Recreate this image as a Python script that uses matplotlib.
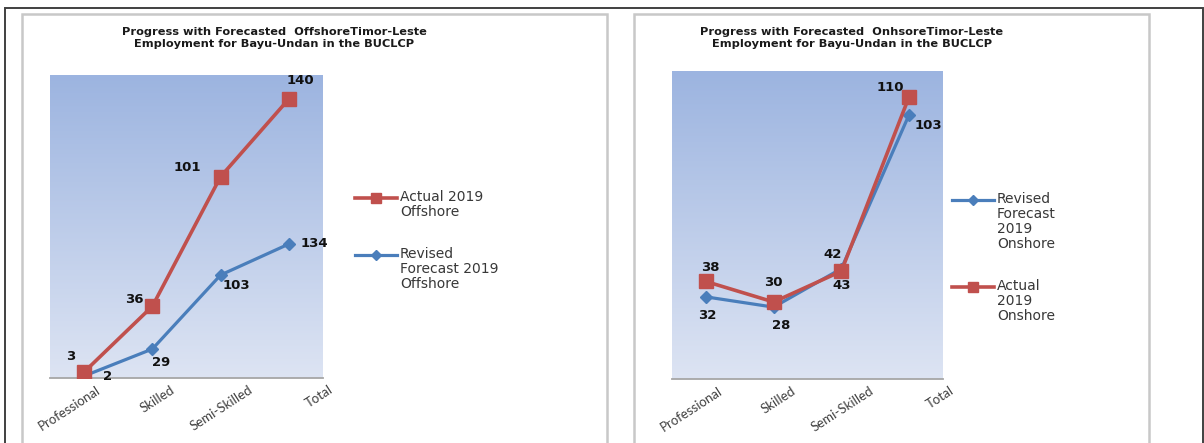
import matplotlib
matplotlib.use("Agg")
import numpy as np
import matplotlib.pyplot as plt
from matplotlib.colors import LinearSegmentedColormap
from matplotlib.lines import Line2D
from matplotlib.patches import Rectangle
from matplotlib.transforms import Affine2D

W, H = 1204, 443

categories = ["Professional", "Skilled", "Semi-Skilled", "Total"]

offshore_actual = [3, 36, 101, 140]
offshore_forecast = [2, 29, 103, 134]

onshore_forecast = [32, 28, 43, 103]
onshore_actual = [38, 30, 42, 110]

# label offsets in pixels (dx, dy)
off_actual_offsets = [(-13, 16), (-18, 7), (-33, 9), (12, 18)]
off_forecast_offsets = [(23, 0), (9, -14), (16, -11), (26, 0)]
on_actual_offsets = [(4, 14), (0, 19), (-9, 17), (-19, 9)]
on_forecast_offsets = [(1, -19), (8, -18), (0, -17), (19, -11)]

# the category labels drift right of their ticks in the source image
tick_shift = [12, 18, 28, 40]

RED = "#C0504D"
BLUE = "#4A7EBB"
GRAD = LinearSegmentedColormap.from_list("bg", ["#DDE4F3", "#9CB4E0"])

plt.rcParams["font.family"] = ["DejaVu Sans"]


def fx(x):
    return x / W


def fy(y):
    return 1 - y / H


def make_axes(fig, x0, y0, x1, y1):
    return fig.add_axes([fx(x0), fy(y1), (x1 - x0) / W, (y1 - y0) / H])


def style_axes(ax):
    grad = np.linspace(0, 1, 256).reshape(-1, 1)
    ax.imshow(grad, cmap=GRAD, origin="lower", aspect="auto",
              extent=[0, 1, 0, 1], transform=ax.transAxes, zorder=0)
    for s in ["top", "left", "right"]:
        ax.spines[s].set_visible(False)
    ax.spines["bottom"].set_color("#A6A6A6")
    ax.spines["bottom"].set_linewidth(1.3)
    ax.set_yticks([])
    ax.set_xlim(-0.5, len(categories) - 0.5)
    ax.tick_params(axis="x", length=0, pad=4)
    ax.set_xticks(range(len(categories)))
    labels = ax.set_xticklabels(categories, rotation=33, ha="right",
                                va="top", rotation_mode="anchor",
                                fontsize=9.5, family="Lato",
                                color="#404040")
    for lbl, dx in zip(labels, tick_shift):
        lbl.set_transform(lbl.get_transform() + Affine2D().translate(dx, 0))


def plot_series(ax, values, offsets, color, marker, ms, lw, z):
    x = np.arange(len(values))
    ax.plot(x, values, color=color, lw=lw, marker=marker, ms=ms,
            zorder=z, solid_joinstyle="round")
    for xi, v, (dx, dy) in zip(x, values, offsets):
        ax.annotate(str(v), (xi, v), xytext=(dx, dy),
                    textcoords="offset pixels", ha="center", va="center",
                    fontsize=9.5, fontweight="bold", color="#111111",
                    zorder=z + 1, annotation_clip=False)


def legend_key(fig, x, y, color, marker, ms, lw, text):
    fig.add_artist(Line2D([fx(x), fx(x + 42)], [fy(y), fy(y)],
                          transform=fig.transFigure, color=color, lw=lw))
    fig.add_artist(Line2D([fx(x + 21)], [fy(y)], transform=fig.transFigure,
                          color=color, marker=marker, ms=ms, lw=0))
    fig.text(fx(x + 45), fy(y - 8), text, ha="left", va="top",
             fontsize=10, color="#383838", linespacing=1.08)


fig = plt.figure(figsize=(W / 100, H / 100), dpi=100)

# frames
fig.add_artist(Rectangle((fx(5), fy(460)), fx(1203) - fx(5), fy(8) - fy(460),
                         transform=fig.transFigure, fill=False,
                         edgecolor="#404040", lw=1.4))
for x0, x1 in [(22, 607), (634, 1149)]:
    fig.add_artist(Rectangle((fx(x0), fy(460)), fx(x1) - fx(x0),
                             fy(14) - fy(460), transform=fig.transFigure,
                             fill=False, edgecolor="#C8C8C8", lw=1.8))

# left chart: offshore (two value scales)
ax1 = make_axes(fig, 50, 75, 323, 378)
style_axes(ax1)
ax1.set_ylim(0, 303)
plot_series(ax1, offshore_forecast, off_forecast_offsets, BLUE, "D", 6.5,
            2.3, 3)
ax1b = ax1.twinx()
ax1b.set_xlim(-0.5, len(categories) - 0.5)
ax1b.set_ylim(0, 152)
ax1b.axis("off")
plot_series(ax1b, offshore_actual, off_actual_offsets, RED, "s", 10, 2.6, 4)

fig.text(fx(274), fy(38), "Progress with Forecasted  OffshoreTimor-Leste\n"
         "Employment for Bayu-Undan in the BUCLCP", ha="center",
         va="center", fontsize=8.2, fontweight="bold", linespacing=1.2,
         color="#1a1a1a")

legend_key(fig, 355, 198, RED, "s", 7.5, 2.6, "Actual 2019\nOffshore")
legend_key(fig, 355, 255, BLUE, "D", 5, 2.3,
           "Revised\nForecast 2019\nOffshore")

# right chart: onshore
ax2 = make_axes(fig, 672, 71, 943, 379)
style_axes(ax2)
ax2.set_ylim(0, 120)
plot_series(ax2, onshore_forecast, on_forecast_offsets, BLUE, "D", 6.5,
            2.3, 3)
plot_series(ax2, onshore_actual, on_actual_offsets, RED, "s", 10, 2.6, 4)

fig.text(fx(852), fy(38), "Progress with Forecasted  OnhsoreTimor-Leste\n"
         "Employment for Bayu-Undan in the BUCLCP", ha="center",
         va="center", fontsize=8.2, fontweight="bold", linespacing=1.2,
         color="#1a1a1a")

legend_key(fig, 952, 200, BLUE, "D", 5, 2.3,
           "Revised\nForecast\n2019\nOnshore")
legend_key(fig, 952, 287, RED, "s", 7.5, 2.6, "Actual\n2019\nOnshore")

fig.savefig("out.png", dpi=100)
